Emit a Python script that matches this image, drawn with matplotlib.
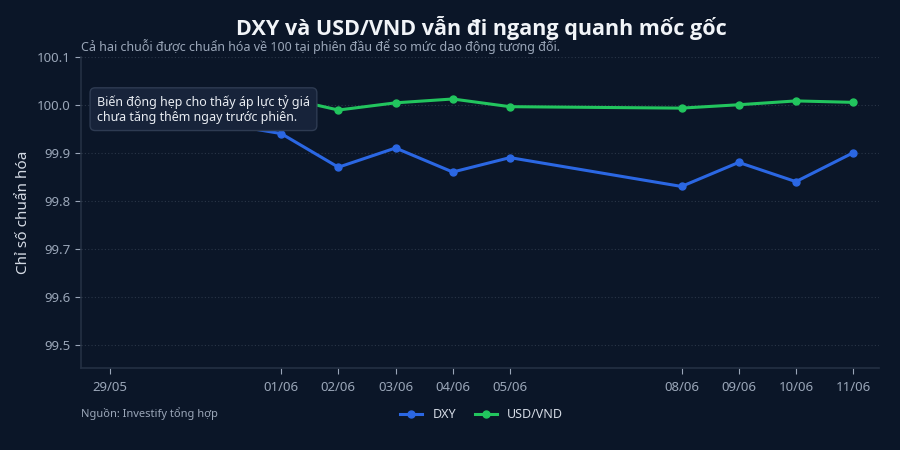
import matplotlib.pyplot as plt
import pandas as pd

plt.rcParams['font.family'] = ['Noto Sans', 'DejaVu Sans']

# dữ liệu (chuẩn hóa về 100 tại phiên đầu)
dates = ['2020-05-29', '2020-06-01', '2020-06-02', '2020-06-03', '2020-06-04',
         '2020-06-05', '2020-06-08', '2020-06-09', '2020-06-10', '2020-06-11']
dxy = [100.0, 99.94, 99.87, 99.91, 99.86, 99.89, 99.83, 99.88, 99.84, 99.90]
usdvnd = [100.0, 100.016, 99.989, 100.004, 100.012, 99.996, 99.993, 100.0, 100.008, 100.005]
tick_labels = ['29/05', '01/06', '02/06', '03/06', '04/06', '05/06', '08/06', '09/06', '10/06', '11/06']

x = pd.to_datetime(dates)

bg = '#0b1628'
blue = '#2b67e3'
green = '#22c55e'
text_col = '#9aa6b8'

fig = plt.figure(figsize=(9, 4.5), dpi=100, facecolor=bg)
ax = fig.add_axes([0.09, 0.182, 0.887, 0.692])
ax.set_facecolor(bg)

ax.plot(x, dxy, color=blue, lw=2.2, marker='o', ms=5, label='DXY', zorder=3)
ax.plot(x, usdvnd, color=green, lw=2.2, marker='o', ms=5, label='USD/VND', zorder=3)

ax.set_ylim(99.452, 100.1)
ax.set_yticks([99.5, 99.6, 99.7, 99.8, 99.9, 100.0, 100.1])
ax.set_xlim(x[0] - pd.Timedelta(hours=12), x[-1] + pd.Timedelta(hours=11))
ax.set_xticks(x)
ax.set_xticklabels(tick_labels)

ax.grid(axis='y', color='#2a3648', linestyle=(0, (1, 2)), lw=0.8)
ax.tick_params(colors=text_col, labelsize=9.5, length=4, width=0.8)
ax.tick_params(axis='x', pad=5)
for side in ['top', 'right']:
    ax.spines[side].set_visible(False)
for side in ['left', 'bottom']:
    ax.spines[side].set_color('#243043')
    ax.spines[side].set_linewidth(1.2)

ax.set_ylabel('Chỉ số chuẩn hóa', color='#d5dbe5', fontsize=11, labelpad=4)

fig.text(0.535, 0.938, 'DXY và USD/VND vẫn đi ngang quanh mốc gốc', ha='center', va='center',
         color='#f1f4f8', fontsize=15.5, fontweight='bold', family=['Open Sans', 'DejaVu Sans'])
fig.text(0.09, 0.897, 'Cả hai chuỗi được chuẩn hóa về 100 tại phiên đầu để so mức dao động tương đối.',
         ha='left', va='center', color=text_col, fontsize=9)
fig.text(0.09, 0.08, 'Nguồn: Investify tổng hợp', ha='left', va='center', color=text_col, fontsize=8)

ax.annotate('Biến động hẹp cho thấy áp lực tỷ giá\nchưa tăng thêm ngay trước phiên.',
            xy=(0.02, 0.878), xycoords='axes fraction', ha='left', va='top',
            color='#e8ecf2', fontsize=9, zorder=5,
            bbox=dict(boxstyle='round,pad=0.55,rounding_size=0.4', fc='#17233a', ec='#2e3b52', lw=1))

fig.legend(loc='center', bbox_to_anchor=(0.535, 0.078), ncol=2, frameon=False,
           fontsize=9, labelcolor='#d5dbe5', handlelength=1.8, columnspacing=1.5)

fig.savefig('out.png', dpi=100, facecolor=bg)
